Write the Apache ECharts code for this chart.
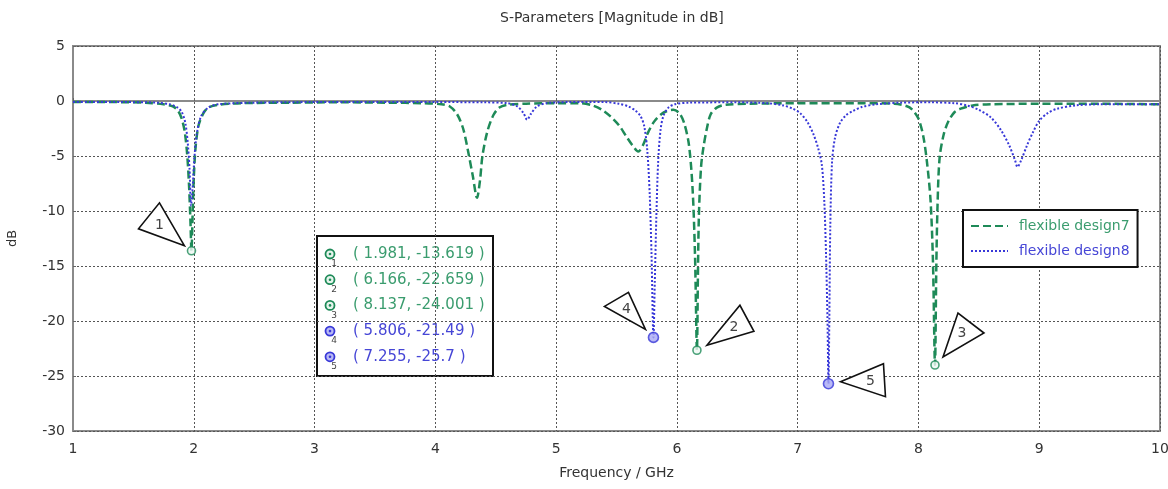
<!DOCTYPE html>
<html>
<head>
<meta charset="utf-8">
<script src="https://cdn.jsdelivr.net/npm/echarts@6/dist/echarts.min.js"></script>
<style>html,body{margin:0;padding:0;background:#fff}#c{width:1168px;height:489px}</style>
</head>
<body>
<div id="c"></div>
<script>
const titleText = 'S-Parameters [Magnitude in dB]';
const xName = 'Frequency / GHz';
const yName = 'dB';
const seriesNames = ['flexible design7', 'flexible design8'];

const freq7 = [1.0,1.3,1.6,1.75,1.83,1.87,1.9,1.925,1.945,1.96,1.972,1.981,1.99,2.0,2.015,2.04,2.08,2.12,2.2,2.4,2.8,3.2,3.6,3.9,4.05,4.12,4.18,4.23,4.27,4.31,4.345,4.37,4.39,4.43,4.48,4.53,4.6,4.75,5.0,5.2,5.3,5.38,5.45,5.52,5.58,5.63,5.68,5.72,5.76,5.81,5.87,5.92,5.97,6.02,6.06,6.1,6.13,6.15,6.166,6.174,6.182,6.2,6.22,6.25,6.28,6.33,6.4,6.6,7.0,7.5,7.8,7.9,7.95,8.0,8.04,8.07,8.1,8.12,8.137,8.148,8.158,8.175,8.21,8.25,8.3,8.35,8.45,8.6,9.0,9.5,10.0];
const db7 = [-0.1,-0.1,-0.15,-0.3,-0.5,-0.9,-1.6,-2.8,-4.8,-7.5,-10.8,-13.62,-10.5,-7.0,-4.2,-2.2,-1.1,-0.6,-0.35,-0.2,-0.15,-0.12,-0.15,-0.2,-0.3,-0.5,-1.2,-2.5,-4.5,-6.8,-8.8,-7.2,-5.0,-2.8,-1.3,-0.6,-0.35,-0.25,-0.2,-0.2,-0.4,-0.8,-1.4,-2.2,-3.2,-4.0,-4.6,-4.0,-2.9,-1.9,-1.2,-0.9,-0.8,-1.1,-2.0,-4.0,-8.0,-14.0,-22.66,-16.0,-10.5,-6.0,-4.2,-2.4,-1.2,-0.6,-0.35,-0.25,-0.2,-0.2,-0.25,-0.45,-0.8,-1.6,-3.2,-5.5,-9.0,-14.5,-24.0,-15.0,-9.5,-5.2,-3.0,-1.8,-1.0,-0.7,-0.4,-0.3,-0.25,-0.25,-0.3];

const freq8 = [1.0,1.4,1.7,1.8,1.86,1.9,1.93,1.95,1.965,1.977,1.99,2.005,2.025,2.06,2.12,2.2,2.5,3.0,3.5,4.0,4.4,4.6,4.68,4.73,4.76,4.79,4.84,4.92,5.1,5.4,5.52,5.6,5.66,5.7,5.73,5.755,5.775,5.79,5.806,5.817,5.83,5.845,5.865,5.89,5.93,5.98,6.1,6.5,6.75,6.88,6.96,7.02,7.08,7.13,7.17,7.2,7.22,7.235,7.247,7.255,7.262,7.27,7.285,7.31,7.35,7.4,7.46,7.53,7.65,7.85,8.1,8.3,8.4,8.5,8.6,8.68,8.75,8.8,8.82,8.85,8.9,8.95,9.0,9.07,9.15,9.3,9.5,10.0];
const db8 = [-0.1,-0.1,-0.15,-0.3,-0.55,-1.0,-2.0,-3.8,-6.2,-9.5,-8.0,-5.2,-3.0,-1.4,-0.6,-0.3,-0.15,-0.1,-0.1,-0.1,-0.12,-0.2,-0.5,-1.1,-1.7,-1.2,-0.5,-0.2,-0.1,-0.1,-0.25,-0.5,-0.9,-1.4,-2.3,-4.5,-8.5,-14.0,-21.49,-16.5,-10.5,-5.5,-2.6,-1.3,-0.6,-0.3,-0.15,-0.12,-0.2,-0.4,-0.7,-1.1,-1.9,-3.0,-4.3,-5.8,-9.0,-14.0,-20.0,-25.7,-20.0,-11.5,-5.5,-3.3,-2.0,-1.3,-0.9,-0.55,-0.3,-0.15,-0.12,-0.2,-0.4,-0.8,-1.5,-2.6,-4.0,-5.4,-6.0,-5.4,-4.0,-2.8,-1.8,-1.1,-0.7,-0.4,-0.3,-0.3];

const markerNames = ['1','2','3','4','5'];
const markerFreq = [1.981, 6.166, 8.137, 5.806, 7.255];
const markerDb = [-13.619, -22.659, -24.001, -21.49, -25.7];
const markerSeries = [0, 0, 0, 1, 1];

// styles
const lineColors = ['#1e8a58', '#3838d8'];
const textColors = ['#3a9c6e', '#4646d6'];
const FONT = 'DejaVu Sans';
// callout triangle geometry relative to marker (pixels)
const calloutShapes = [
  {tri: [[-7,-5],[-32,-48],[-53,-22]], lab: [-32,-25]},
  {tri: [[10,-5],[43,-45],[57,-19]], lab: [37,-23]},
  {tri: [[8,-8],[23,-52],[49,-32]], lab: [27,-32]},
  {tri: [[-8,-8],[-25,-45],[-49,-31]], lab: [-27,-28]},
  {tri: [[12,-2],[55,-20],[57,13]], lab: [42,-2]}
];

const zip = (a, b) => a.map((v, i) => [v, b[i]]);

const chart = echarts.init(document.getElementById('c'), null, {renderer: 'canvas'});

// marker table graphics
const tableX = 316, tableY = 235, rowH = 25.7;
const tableChildren = [{
  type: 'rect', shape: {x: 0, y: 0, width: 176, height: 140},
  style: {fill: '#fff', stroke: '#111', lineWidth: 2}
}];
markerNames.forEach((n, i) => {
  const cy = 18 + i * rowH;
  const s = markerSeries[i];
  tableChildren.push({type: 'circle', shape: {cx: 13, cy: cy, r: 4.5}, style: {fill: s ? '#b8b8f4' : '#e6f4ec', stroke: lineColors[s], lineWidth: 1.8}});
  tableChildren.push({type: 'circle', shape: {cx: 13, cy: cy, r: 1.3}, style: {fill: lineColors[s]}});
  tableChildren.push({type: 'text', style: {text: n, x: 17, y: cy + 10, fill: '#444', font: '9px ' + FONT, align: 'center', verticalAlign: 'middle'}});
  tableChildren.push({type: 'text', style: {text: '( ' + markerFreq[i] + ', ' + markerDb[i] + ' )', x: 36, y: cy, fill: textColors[s], font: '15px ' + FONT, verticalAlign: 'middle'}});
});

const option = {
  animation: false,
  backgroundColor: '#fff',
  title: {
    text: titleText, left: 495, top: 6,
    textStyle: {fontFamily: FONT, fontSize: 14, fontWeight: 'normal', color: '#333'}
  },
  legend: {
    orient: 'vertical', left: 963, top: 210,
    padding: [9, 8, 9, 7],
    itemWidth: 37, itemHeight: 12, itemGap: 11,
    backgroundColor: '#fff', borderColor: '#111', borderWidth: 2,
    itemStyle: {opacity: 0},
    data: seriesNames.map((n, i) => ({name: n, textStyle: {color: textColors[i]}})),
    textStyle: {fontFamily: FONT, fontSize: 14, padding: [0, 0, 0, 6]}
  },
  grid: {left: 73, right: 8, top: 46, bottom: 58, show: true, borderColor: '#8a8a8a', borderWidth: 2, backgroundColor: 'transparent', outerBoundsMode: 'none', containLabel: false},
  xAxis: {
    type: 'value', min: 1, max: 10, interval: 1,
    name: xName, nameLocation: 'middle', nameGap: 35,
    nameTextStyle: {fontFamily: FONT, fontSize: 14, color: '#333'},
    axisLine: {lineStyle: {color: '#8a8a8a', width: 2}},
    axisTick: {show: true, length: 3, inside: true, lineStyle: {color: '#666'}},
    axisLabel: {fontFamily: FONT, fontSize: 14, color: '#333', margin: 11},
    splitLine: {show: true, lineStyle: {color: '#555', type: [2, 2], width: 1}}
  },
  yAxis: {
    type: 'value', min: -30, max: 5, interval: 5,
    name: yName, nameLocation: 'middle', nameGap: 54,
    nameTextStyle: {fontFamily: FONT, fontSize: 13, color: '#333'},
    axisLine: {show: true, lineStyle: {color: '#8a8a8a', width: 2}},
    axisTick: {show: true, length: 3, inside: true, lineStyle: {color: '#666'}},
    axisLabel: {fontFamily: FONT, fontSize: 14, color: '#333', margin: 8},
    splitLine: {show: true, lineStyle: {color: '#555', type: [2, 2], width: 1}}
  },
  series: [
    {
      name: seriesNames[0], type: 'line', data: zip(freq7, db7), showSymbol: false, symbol: 'none',
      smooth: 0.3, z: 3,
      lineStyle: {color: lineColors[0], width: 2.5, type: [8, 4]},
      itemStyle: {color: lineColors[0]}
    },
    {
      name: seriesNames[1], type: 'line', data: zip(freq8, db8), showSymbol: false, symbol: 'none',
      smooth: 0.3, z: 4,
      lineStyle: {color: lineColors[1], width: 2, type: [2, 2]},
      itemStyle: {color: lineColors[1]}
    },
    {
      name: 'markers', type: 'scatter', z: 6, symbol: 'circle',
      data: markerFreq.map((f, i) => ({
        value: [f, markerDb[i]],
        symbolSize: markerSeries[i] ? 10 : 8,
        itemStyle: {color: markerSeries[i] ? '#a8a8f4' : '#eef8f2', borderColor: lineColors[markerSeries[i]], borderWidth: 1.6}
      })),
      silent: true
    },
    {
      name: 'callouts', type: 'custom', z: 7, clip: false, silent: true,
      data: markerFreq.map((f, i) => [f, markerDb[i]]),
      renderItem: function (params, api) {
        const i = params.dataIndex;
        const p = api.coord([api.value(0), api.value(1)]);
        const s = calloutShapes[i];
        return {
          type: 'group',
          children: [
            {type: 'polygon', shape: {points: s.tri.map(o => [p[0] + o[0], p[1] + o[1]])},
             style: {fill: '#fff', stroke: '#111', lineWidth: 1.6}},
            {type: 'text', style: {text: markerNames[i], x: p[0] + s.lab[0], y: p[1] + s.lab[1],
             align: 'center', verticalAlign: 'middle', fill: '#444', font: '14px ' + FONT}}
          ]
        };
      }
    }
  ],
  graphic: [
    {type: 'group', left: tableX, top: tableY, z: 100, children: tableChildren},
  ]
};
chart.setOption(option);
</script>
</body>
</html>
